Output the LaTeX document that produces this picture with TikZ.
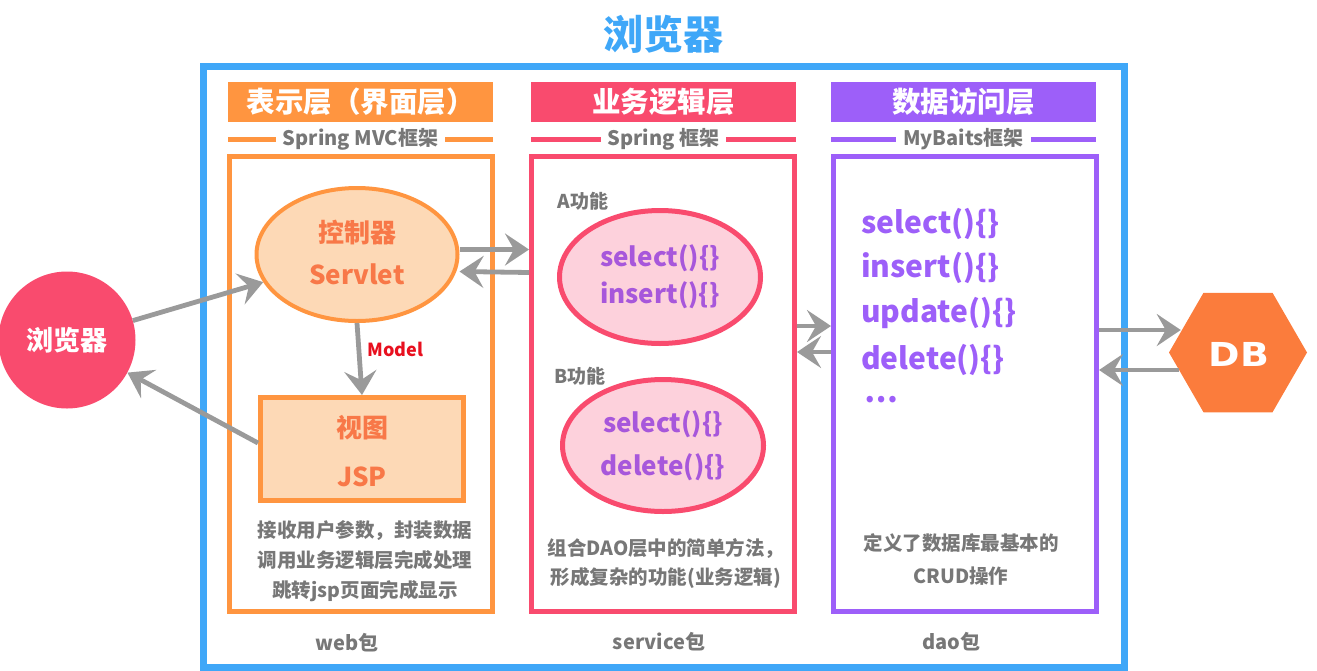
\documentclass[tikz,border=0pt]{standalone}
\usepackage{fontspec}
\setmainfont{Noto Sans CJK SC}
\newfontfamily\dbfont{DejaVu Sans Bold}[FakeStretch=1.15]
\usetikzlibrary{arrows.meta,shapes.geometric,calc}
\definecolor{blueC}{HTML}{3FA7F8}
\definecolor{orngC}{HTML}{FF9540}
\definecolor{peachC}{HTML}{FDD9B6}
\definecolor{srvC}{HTML}{F87848}
\definecolor{pinkC}{HTML}{F94B6E}
\definecolor{pinkF}{HTML}{FDD1DC}
\definecolor{ellP}{HTML}{A757DB}
\definecolor{purpC}{HTML}{9D5FF9}
\definecolor{greyT}{HTML}{777777}
\definecolor{arrG}{HTML}{9A9A9A}
\definecolor{modelR}{HTML}{E8101F}
\definecolor{dbC}{HTML}{FB7C3C}
\newcommand{\fs}[2]{\fontsize{#1}{#2}\selectfont\bfseries}
\begin{document}
\begin{tikzpicture}[x=1pt,y=-1pt,
  arr/.style={draw=arrG, line width=4.8pt, -{Stealth[length=24pt,width=32pt,inset=9pt]}},
  header/.style={fill=#1, text=white, minimum width=265pt, minimum height=40pt, inner sep=0pt, font=\fs{28.5}{30}},
  subtxt/.style={fill=white, text=greyT, inner xsep=7pt, inner ysep=1pt, font=\fs{20}{22}},
  subline/.style={draw=#1, line width=5pt},
  colbox/.style={draw=#1, line width=5pt, minimum width=263pt, minimum height=455pt, inner sep=0pt},
  ell/.style={ellipse, draw=#1, line width=5pt, inner sep=0pt},
  srvtext/.style={text=srvC, font=\fs{26}{28}},
  fntext/.style={text=ellP, font=\fs{26}{28}},
  daotext/.style={text=purpC, font=\fs{30}{32}, anchor=west, inner sep=0pt},
  desc/.style={text=greyT, align=center, font=\fs{19.5}{30}},
  small/.style={text=greyT, font=\fs{19}{21}},
  pkg/.style={text=greyT, font=\fs{20}{22}}
]
\useasboundingbox (0,0) rectangle (1317,670);

% title and outer frame
\node[text=blueC, font=\fs{40}{44}] (title) at (663,34) {浏览器};
\draw[blueC, line width=7pt] (203,66) rectangle (1124,667);

% headers
\node[header=orngC] (h1) at (360.5,102) {表示层（界面层）};
\node[header=pinkC] (h2) at (663.5,102) {业务逻辑层};
\node[header=purpC] (h3) at (963.5,102) {数据访问层};

% sub headers
\draw[subline=orngC] (228,139) -- (493,139);
\node[subtxt] (s1) at (360.5,139) {Spring MVC框架};
\draw[subline=pinkC] (531,139) -- (796,139);
\node[subtxt] (s2) at (663.5,139) {Spring 框架};
\draw[subline=purpC] (831,139) -- (1096,139);
\node[subtxt] (s3) at (963.5,139) {MyBaits框架};

% column boxes
\node[colbox=orngC] (webbox) at (361,384) {};
\node[colbox=pinkC] (svcbox) at (663,384) {};
\node[colbox=purpC] (daobox) at (965,384) {};

% web column
\node[ell=orngC, line width=4pt, fill=peachC, minimum width=201pt, minimum height=133pt] (srv) at (357,254.5) {};
\node[srvtext] (srvA) at (357,233) {控制器};
\node[srvtext] (srvB) at (357,274) {Servlet};
\node[draw=orngC, line width=5pt, fill=peachC, minimum width=203pt, minimum height=103pt, inner sep=0pt] (view) at (362,449) {};
\node[srvtext] (viewA) at (362,428) {视图};
\node[srvtext] (viewB) at (362,477) {JSP};
\draw[arr] (srv.south) -- (view.north);
\node[text=modelR, font=\fs{18}{20}, anchor=west] (model) at (364,349) {Model};
\node[desc] (d1) at (365,561) {接收用户参数，封装数据\\调用业务逻辑层完成处理\\跳转jsp页面完成显示};
\node[pkg] (p1) at (347,643) {web包};

% service column
\node[small, anchor=west] (fa) at (554,201) {A功能};
\node[ell=pinkC, fill=pinkF, minimum width=201pt, minimum height=133pt] (ea) at (660,277) {};
\node[fntext] (eaA) at (660,258) {select()\{\}};
\node[fntext] (eaB) at (660,295) {insert()\{\}};
\node[small, anchor=west] (fb) at (551,376) {B功能};
\node[ell=pinkC, fill=pinkF, minimum width=201pt, minimum height=132pt] (eb) at (663,445.5) {};
\node[fntext] (ebA) at (663,424) {select()\{\}};
\node[fntext] (ebB) at (663,467) {delete()\{\}};
\node[desc, font=\fs{19.5}{29}] (d2) at (666,563.5) {组合DAO层中的简单方法，\\形成复杂的功能(业务逻辑)};
\node[pkg] (p2) at (659,642) {service包};

% dao column
\node[daotext] (m1) at (861,224) {select()\{\}};
\node[daotext] (m2) at (861,268) {insert()\{\}};
\node[daotext] (m3) at (861,313) {update()\{\}};
\node[daotext] (m4) at (861,360) {delete()\{\}};
\node[daotext] (m5) at (864,400) {…};
\node[desc, font=\fs{19.5}{33}] (d3) at (961,559.5) {定义了数据库最基本的\\CRUD操作};
\node[pkg] (p3) at (951,642) {dao包};

% browser and DB
\node[circle, fill=pinkC, minimum size=137pt, inner sep=0pt, text=white, font=\fs{27}{30}] (brw) at (67,340) {浏览器};
\node[regular polygon, regular polygon sides=6, fill=dbC, minimum size=138pt, inner sep=0pt] (db) at (1238,352.5) {};
\node[text=white, font=\dbfont\fontsize{33}{36}\selectfont] (dbt) at (1239,354) {DB};

% connectors
\draw[arr] (brw) -- (srv);
\draw[arr] ([yshift=6pt]view.west) -- (brw);
\draw[arr] ([yshift=5pt]srv.east) -- ([yshift=5pt]srv.east -| svcbox.west);
\draw[arr] ([yshift=-18pt]srv.east -| svcbox.west) -- ([yshift=-17pt]srv.east);
\draw[arr] (svcbox.east |- 0,326) -- (daobox.west |- 0,326);
\draw[arr] (daobox.west |- 0,352) -- (svcbox.east |- 0,352);
\draw[arr] (daobox.east |- 0,330) -- ($(db.west)+(12,-22.5)$);
\draw[arr] ($(db.west)+(10,17.5)$) -- (daobox.east |- 0,370);
\end{tikzpicture}
\end{document}
